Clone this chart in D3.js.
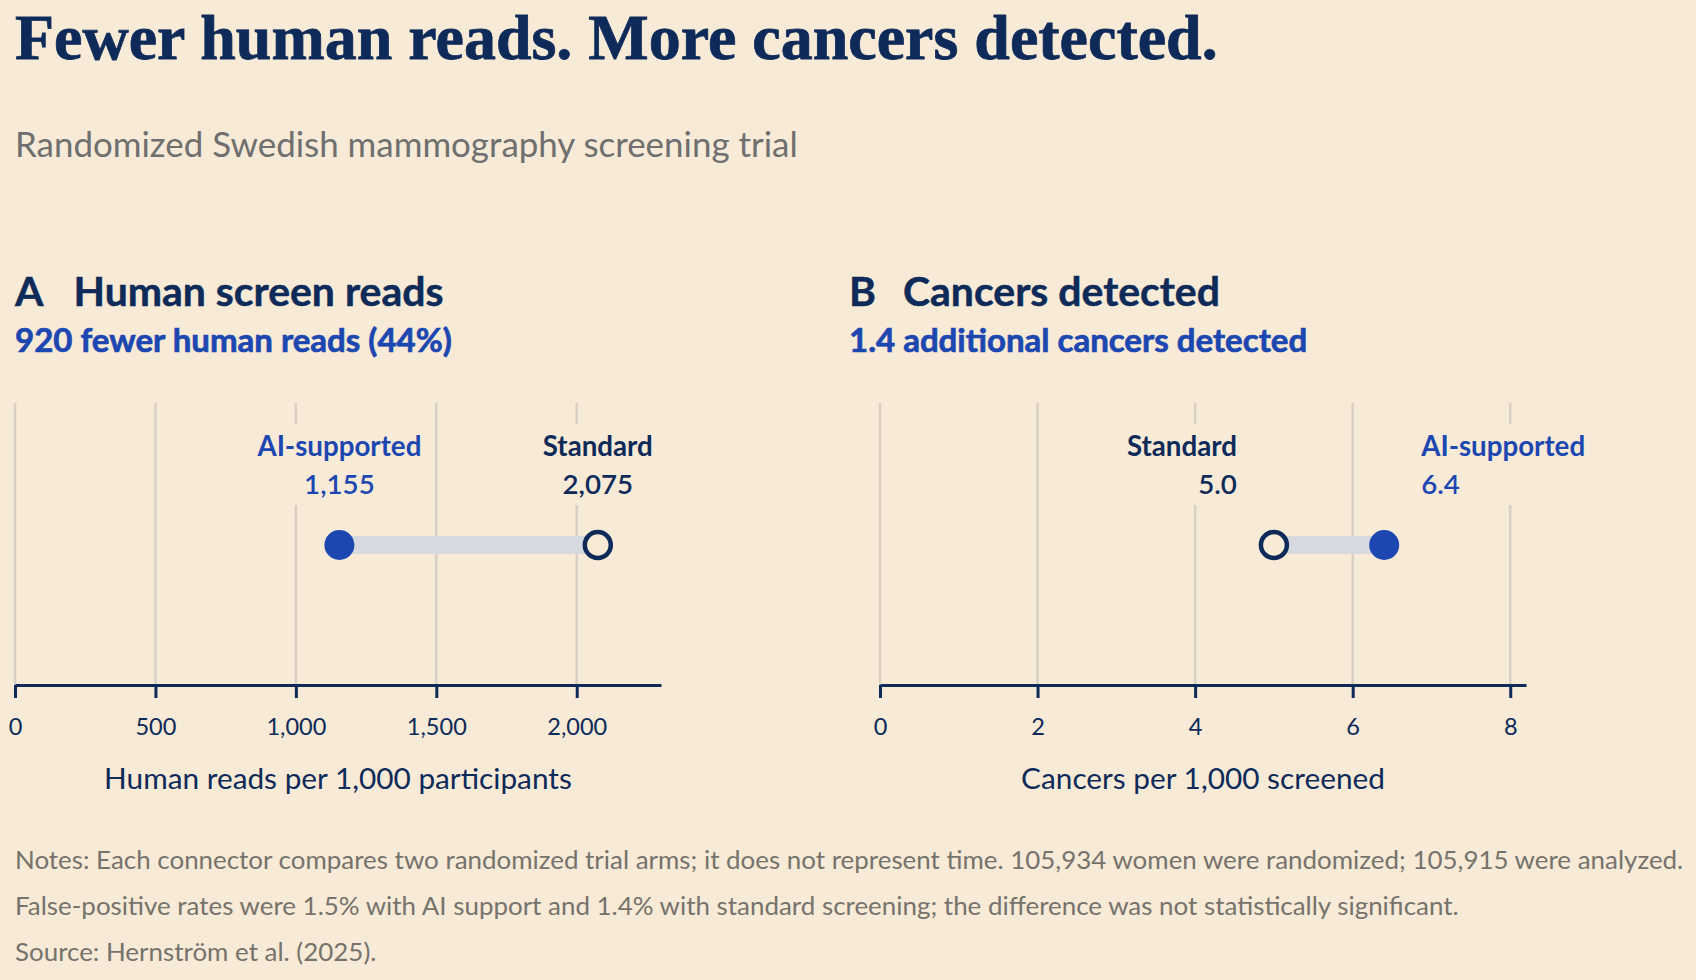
<!DOCTYPE html>
<html><head><meta charset="utf-8">
<script src="https://cdn.jsdelivr.net/npm/d3@7"></script>
<style>
html,body{margin:0;padding:0;background:#f7ead7;}
svg{display:block}
</style></head><body>
<svg id="chart" width="1696" height="980"></svg>
<script>
// ---------- data ----------
const title = "Fewer human reads. More cancers detected.";
const subtitle = "Randomized Swedish mammography screening trial";
const arms = ["AI-supported", "Standard"];
const readsValues = [1155, 2075];
const cancerValues = [6.4, 5.0];
const readsTicks = [0, 500, 1000, 1500, 2000];
const cancerTicks = [0, 2, 4, 6, 8];
const panelLetters = ["A", "B"];
const panelTitles = ["Human screen reads", "Cancers detected"];
const panelSubtitles = ["920 fewer human reads (44%)", "1.4 additional cancers detected"];
const axisTitles = ["Human reads per 1,000 participants", "Cancers per 1,000 screened"];
const notes = [
  "Notes: Each connector compares two randomized trial arms; it does not represent time. 105,934 women were randomized; 105,915 were analyzed.",
  "False-positive rates were 1.5% with AI support and 1.4% with standard screening; the difference was not statistically significant.",
  "Source: Hernström et al. (2025)."
];

// ---------- style / layout ----------
const C = {bg:"#f7ead7", navy:"#0d2a59", blue:"#1d47b0", gray:"#76726c", grid:"#d8d0c4", conn:"#d6d9df", sub:"#6f6f6f"};
const SANS = "Lato, 'Noto Sans', sans-serif";
const SERIF = "'Liberation Serif', 'DejaVu Serif', serif";
const panels = [
  {left:15, right:661, headX:15, titleX:73.5, max:2300, ticks:readsTicks, values:readsValues, fmt:d3.format(","), tickFmt:d3.format(","), mode:"middle"},
  {left:880, right:1526, headX:849, titleX:903, max:8.2, ticks:cancerTicks, values:cancerValues, fmt:d3.format(".1f"), tickFmt:d3.format("d"), mode:"outside"}
];
const armColor = [C.blue, C.navy];
const gridTop = 403, axisY = 685, dotY = 545;

const svg = d3.select("#chart");
svg.append("rect").attr("width",1696).attr("height",980).attr("fill",C.bg);

function fitSize(sel, target){
  const n = sel.node();
  const fs = parseFloat(sel.attr("font-size"));
  const L = n.getComputedTextLength();
  const nfs = fs*target/L;
  sel.attr("font-size", nfs);
  return nfs;
}
function measure(txt, weight, size, target){
  const s = svg.append("text").attr("font-family",SANS).attr("font-weight",weight).attr("font-size",size).text(txt);
  const f = fitSize(s, target); s.remove(); return f;
}

// title & subtitle
const t = svg.append("text").attr("x",15).attr("y",59).attr("font-family",SERIF).attr("font-weight",700)
  .attr("font-size",56).attr("fill",C.navy).attr("stroke",C.navy).attr("stroke-width",0.8).text(title);
fitSize(t, 1203);
const st = svg.append("text").attr("x",15).attr("y",157).attr("font-family",SANS).attr("font-weight",400)
  .attr("font-size",30).attr("fill",C.sub).text(subtitle);
fitSize(st, 783);

const headSize = measure(panelTitles[0], 700, 36, 370);
const subHeadSize = measure(panelSubtitles[0], 700, 26, 437);
const axisTitleSize = measure(axisTitles[0], 400, 24, 468);
const tickSize = measure("1,000", 400, 22, 60);
const labelSize = measure("AI-supported", 700, 24, 164);
const noteSize = measure(notes[0], 400, 22, 1669);

panels.forEach((p, i) => {
  const g = svg.append("g");
  // headings
  g.append("text").attr("x",p.headX).attr("y",306).attr("font-family",SANS).attr("font-weight",700)
    .attr("font-size",headSize).attr("fill",C.navy).attr("stroke",C.navy).attr("stroke-width",0.5).text(panelLetters[i]);
  g.append("text").attr("x",p.titleX).attr("y",306).attr("font-family",SANS).attr("font-weight",700)
    .attr("font-size",headSize).attr("fill",C.navy).attr("stroke",C.navy).attr("stroke-width",0.5).text(panelTitles[i]);
  g.append("text").attr("x",p.headX).attr("y",352).attr("font-family",SANS).attr("font-weight",700)
    .attr("font-size",subHeadSize).attr("fill",C.blue).attr("stroke",C.blue).attr("stroke-width",0.7).text(panelSubtitles[i]);

  const x = d3.scaleLinear().domain([0,p.max]).range([p.left,p.right]);

  // gridlines
  g.append("g").selectAll("line").data(p.ticks).join("line")
    .attr("x1",d=>x(d)).attr("x2",d=>x(d)).attr("y1",gridTop).attr("y2",axisY)
    .attr("stroke",C.grid).attr("stroke-width",2.5);

  // labels with background
  const lg = g.append("g");
  const order = arms.map((a,k)=>k);
  const lo = Math.min(...p.values), hi = Math.max(...p.values);
  order.forEach(k => {
    const v = p.values[k];
    let anchor = "middle", lx = x(v);
    if (p.mode === "outside") {
      if (v === lo) { anchor = "end"; lx = x(v) - 37; }
      else { anchor = "start"; lx = x(v) + 37; }
    }
    const bgR = lg.append("rect").attr("fill",C.bg);
    const tx = lg.append("text").attr("font-family",SANS).attr("font-weight",700).attr("font-size",labelSize)
      .attr("fill",armColor[k]).attr("text-anchor",anchor);
    tx.append("tspan").attr("x",lx).attr("y",456).text(arms[k]);
    tx.append("tspan").attr("x",lx).attr("y",494).attr("font-weight",600).text(p.fmt(v));
    const bb = tx.node().getBBox();
    bgR.attr("x",bb.x-6).attr("y",bb.y-5).attr("width",bb.width+12).attr("height",bb.height+10);
  });

  // connector
  g.append("line").attr("x1",x(lo)).attr("x2",x(hi)).attr("y1",dotY).attr("y2",dotY)
    .attr("stroke",C.conn).attr("stroke-width",18);

  // dots
  g.append("g").selectAll("circle").data(order).join("circle")
    .attr("cx",k=>x(p.values[k])).attr("cy",dotY)
    .attr("r",k=>k===0?15:13)
    .attr("fill",k=>k===0?C.blue:C.bg)
    .attr("stroke",k=>k===0?"none":C.navy)
    .attr("stroke-width",4.5);

  // axis
  const ax = g.append("g").attr("transform",`translate(0,${axisY})`)
    .call(d3.axisBottom(x).tickValues(p.ticks).tickFormat(p.tickFmt).tickSize(13).tickSizeOuter(0));
  ax.select(".domain").attr("stroke",C.navy).attr("stroke-width",3);
  ax.selectAll(".tick line").attr("stroke",C.navy).attr("stroke-width",3);
  ax.selectAll(".tick text").attr("y",50).attr("dy",0).attr("fill",C.navy)
    .attr("font-family",SANS).attr("font-size",tickSize);

  g.append("text").attr("x",(p.left+p.right)/2).attr("y",789).attr("text-anchor","middle")
    .attr("font-family",SANS).attr("font-size",axisTitleSize).attr("fill",C.navy).text(axisTitles[i]);
});

// notes
svg.append("g").selectAll("text").data(notes).join("text")
  .attr("x",15).attr("y",(d,i)=>869+i*46).attr("font-family",SANS).attr("font-size",noteSize)
  .attr("fill",C.gray).text(d=>d);
</script>
</body></html>
